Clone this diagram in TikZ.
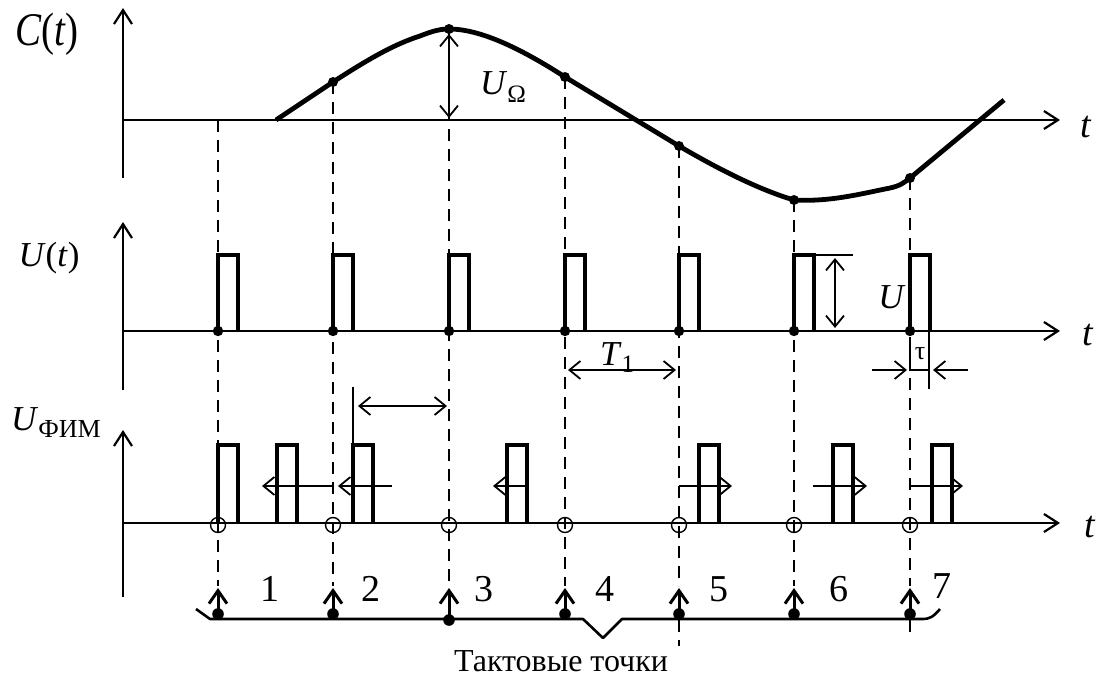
\documentclass[tikz,border=0pt]{standalone}
\usepackage{fontspec}
\setmainfont{Liberation Serif}
\usetikzlibrary{arrows.meta}
\begin{document}
\begin{tikzpicture}[x=1pt,y=-1pt,
  ax/.style={line width=2.2pt},
  axarr/.style={ax,-{Straight Barb[length=14pt,width=18pt,line width=2.2pt]}},
  pulse/.style={line width=4.8pt,line join=miter},
  curve/.style={line width=4.8pt,line join=round},
  dsh/.style={line width=1.8pt,dash pattern=on 12pt off 8pt},
  thin/.style={line width=1.8pt},
  dim/.style={line width=1.8pt,{Straight Barb[length=11pt,width=18pt,line width=1.8pt]}-{Straight Barb[length=11pt,width=18pt,line width=1.8pt]}},
  sarr/.style={line width=1.8pt,-{Straight Barb[length=11pt,width=18pt,line width=1.8pt]}},
  clk/.style={line width=3pt,-{Straight Barb[length=13pt,width=18pt,line width=3pt]}},
  lbl/.style={inner sep=0pt,font=\fontsize{35}{35}\selectfont},
  num/.style={inner sep=0pt,font=\fontsize{38}{38}\selectfont},
]
\useasboundingbox (0,0) rectangle (1104,677);

% axes
\draw[axarr] (123,178) -- (123,8);
\draw[axarr] (123,120) -- (1060,120);
\draw[axarr] (123,390) -- (123,222);
\draw[axarr] (123,331) -- (1060,331);
\draw[axarr] (123,597) -- (123,430);
\draw[axarr] (123,523) -- (1060,523);

% curve points
\coordinate (c1) at (218,120);
\coordinate (c2) at (333,82);
\coordinate (c3) at (449,29);
\coordinate (c4) at (565,77);
\coordinate (c5) at (679,146);
\coordinate (c6) at (794,200);
\coordinate (c7) at (910,178);

% dashed verticals
\foreach \i/\xx in {1/218,2/333,3/449,4/565,5/679,6/794,7/910}
  \draw[dsh] (c\i) -- (\xx,586);
\draw[dsh] (679,620) -- (679,646);
\draw[dsh] (910,620) -- (910,632);

% C(t) curve
\draw[curve] (276,120) -- (c2)
  .. controls (370,58) and (395,44) .. (420,36)
  .. controls (435,30) and (442,29) .. (c3)
  .. controls (480,29) and (520,48) .. (c4)
  -- (c5)
  .. controls (720,170) and (760,190) .. (c6)
  .. controls (830,202) and (860,194) .. (890,188)
  .. controls (900,186) and (905,182) .. (c7)
  -- (1004,100);
\foreach \i in {2,...,7} \fill (c\i) circle (5pt);

% U_Omega
\draw[dim] (449,34) -- (449,118);
\node[lbl,anchor=base west] (uo) at (480,95) {\textit{U}\raisebox{-0.22em}{\fontsize{25}{25}\selectfont Ω}};

% U(t) pulses
\foreach \xx in {218,333,449,565,679,794,910} {
  \draw[pulse] (\xx,331) -- (\xx,255) -- (\xx+20,255) -- (\xx+20,331);
  \fill (\xx,331) circle (5.2pt);
}
% U amplitude
\draw[thin] (814,255) -- (853,255);
\draw[dim] (835,258) -- (835,328);
\node[lbl] (ua) at (892,297) {\textit{U}};
% T1
\draw[dim] (568,370) -- (676,370);
\node[lbl,anchor=base west] (tl) at (600,365) {\textit{T}\raisebox{-0.22em}{\fontsize{25}{25}\selectfont 1}};
% tau
\draw[thin] (910,337) -- (910,370) -- (929,370);
\draw[thin] (929,331) -- (929,389);
\draw[sarr] (872,370) -- (907,370);
\draw[sarr] (968,370) -- (933,370);
\node[inner sep=0pt,font=\fontsize{26}{26}\selectfont] (tau) at (920,354) {τ};

% U_FIM pulses
\foreach \xx in {218,277,353,507,699,833,932}
  \draw[pulse] (\xx,523) -- (\xx,445) -- (\xx+20,445) -- (\xx+20,523);
\foreach \xx in {218,333,449,565,679,794,910}
  \draw[line width=1.4pt] (\xx,525) circle (7.5pt);
\draw[thin] (353,387) -- (353,445);
\draw[dim] (358,406) -- (447,406);
\draw[sarr] (333,486) -- (262,486);
\draw[sarr] (392,486) -- (338,486);
\draw[sarr] (527,486) -- (493,486);
\draw[sarr] (679,486) -- (732,486);
\draw[sarr] (813,486) -- (867,486);
\draw[sarr] (910,486) -- (963,486);

% clock arrows
\foreach \xx/\yy in {218/614,333/614,449/620,565/614,679/614,794/614,910/614} {
  \draw[clk] (\xx,\yy) -- (\xx,588);
  \fill (\xx,\yy) circle (5.8pt);
}
% brace
\draw[line width=2.6pt,line join=round] (196,609) -- (210,619) -- (583,619) -- (603,638) -- (622,619) -- (922,619)
  .. controls (930,619) and (933,617) .. (940,609);
\node[inner sep=0pt,font=\fontsize{32}{32}\selectfont] (tt) at (561,661) {Тактовые точки};

% numbers
\foreach \n/\xx/\yy in {1/270/589,2/371/589,3/484/589,4/605/589,5/719/589,6/839/589,7/942/586}
  \node[num] (n\n) at (\xx,\yy) {\n};

% axis labels
\node[inner sep=0pt] (lc) at (47,34) {\scalebox{1}[1.2]{\fontsize{39}{39}\selectfont\textit{C}(\textit{t})}};
\node[lbl] (lu) at (49,258) {\textit{U}(\textit{t})};
\node[lbl,anchor=base west] (lf) at (11,430) {\textit{U}\raisebox{-0.22em}{\fontsize{26}{26}\selectfont ФИМ}};
\node[lbl,font=\fontsize{38}{38}\selectfont\itshape] (t1) at (1086,127) {t};
\node[lbl,font=\fontsize{38}{38}\selectfont\itshape] (t2) at (1088,335) {t};
\node[lbl,font=\fontsize{38}{38}\selectfont\itshape] (t3) at (1090,527) {t};
\end{tikzpicture}
\end{document}
